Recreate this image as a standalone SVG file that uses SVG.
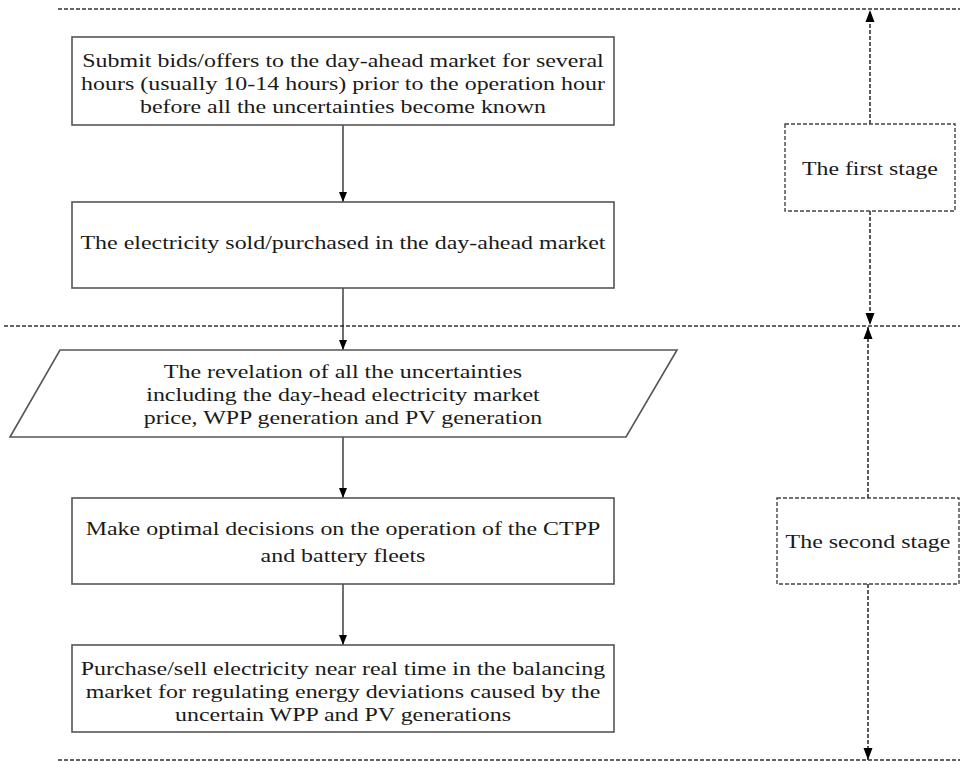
<svg xmlns="http://www.w3.org/2000/svg" width="960" height="762" viewBox="0 0 960 762">
<style>
.box{fill:#fff;stroke:#555;stroke-width:1.6}
.dbox{fill:#fff;stroke:#444;stroke-width:1.4;stroke-dasharray:4 2}
.t{font-family:"Liberation Serif","Times New Roman",serif;font-size:19px;fill:#1a1a1a;text-anchor:middle}
.c{stroke:#222;stroke-width:1.3;fill:none}
.d{stroke:#333;stroke-width:1.6;fill:none;stroke-dasharray:4 2}
</style>
<defs>
<marker id="ah" viewBox="0 0 10 10" refX="10" refY="5" markerWidth="10" markerHeight="10" markerUnits="userSpaceOnUse" orient="auto">
<path d="M0,1 L10,5 L0,9 Z" fill="#000"/>
</marker>
<marker id="ahd" viewBox="0 0 12 10" refX="12" refY="5" markerWidth="12" markerHeight="10" markerUnits="userSpaceOnUse" orient="auto">
<path d="M0,0.5 L12,5 L0,9.5 Z" fill="#000"/>
</marker>
</defs>
<g id="stage-lines">
<line class="d" x1="58" y1="9" x2="960" y2="9"/>
<line class="d" x1="4" y1="326" x2="960" y2="326"/>
<line class="d" x1="58" y1="760" x2="960" y2="760"/>
</g>
<g id="connectors">
<line class="c" x1="343" y1="125" x2="343" y2="202" marker-end="url(#ah)"/>
<line class="c" x1="343" y1="288" x2="343" y2="350" marker-end="url(#ah)"/>
<line class="c" x1="343" y1="437" x2="343" y2="498" marker-end="url(#ah)"/>
<line class="c" x1="343" y1="584" x2="343" y2="645" marker-end="url(#ah)"/>
<line class="d" x1="870" y1="124" x2="870" y2="10" marker-end="url(#ahd)"/>
<line class="d" x1="870" y1="211" x2="870" y2="325" marker-end="url(#ahd)"/>
<line class="d" x1="868" y1="498" x2="868" y2="327" marker-end="url(#ahd)"/>
<line class="d" x1="868" y1="584" x2="868" y2="760" marker-end="url(#ahd)"/>
</g>
<g id="n1">
<rect class="box" x="72" y="37" width="542" height="88"/>
<g transform="matrix(1.26,0,0,1,-89.18,0)">
<text class="t" x="343" y="67">Submit bids/offers to the day-ahead market for several</text>
<text class="t" x="343" y="90">hours (usually 10-14 hours) prior to the operation hour</text>
<text class="t" x="343" y="113">before all the uncertainties become known</text>
</g>
</g>
<g id="n2">
<rect class="box" x="72" y="202" width="542" height="86"/>
<g transform="matrix(1.26,0,0,1,-89.18,0)">
<text class="t" x="343" y="249">The electricity sold/purchased in the day-ahead market</text>
</g>
</g>
<g id="n3">
<polygon class="box" points="60,350 677,350 626,437 10,437"/>
<g transform="matrix(1.26,0,0,1,-89.18,0)">
<text class="t" x="343" y="378">The revelation of all the uncertainties</text>
<text class="t" x="343" y="401">including the day-head electricity market</text>
<text class="t" x="343" y="424">price, WPP generation and PV generation</text>
</g>
</g>
<g id="n4">
<rect class="box" x="72" y="498" width="542" height="86"/>
<g transform="matrix(1.26,0,0,1,-89.18,0)">
<text class="t" x="343" y="535">Make optimal decisions on the operation of the CTPP</text>
<text class="t" x="343" y="562">and battery fleets</text>
</g>
</g>
<g id="n5">
<rect class="box" x="72" y="645" width="542" height="87"/>
<g transform="matrix(1.26,0,0,1,-89.18,0)">
<text class="t" x="343" y="675">Purchase/sell electricity near real time in the balancing</text>
<text class="t" x="343" y="698">market for regulating energy deviations caused by the</text>
<text class="t" x="343" y="721">uncertain WPP and PV generations</text>
</g>
</g>
<g id="s1">
<rect class="dbox" x="785" y="124" width="170" height="87"/>
<g transform="matrix(1.25,0,0,1,-217.5,0)">
<text class="t" x="870" y="175">The first stage</text>
</g>
</g>
<g id="s2">
<rect class="dbox" x="777" y="498" width="182" height="86"/>
<g transform="matrix(1.26,0,0,1,-225.68,0)">
<text class="t" x="868" y="548">The second stage</text>
</g>
</g>
</svg>
